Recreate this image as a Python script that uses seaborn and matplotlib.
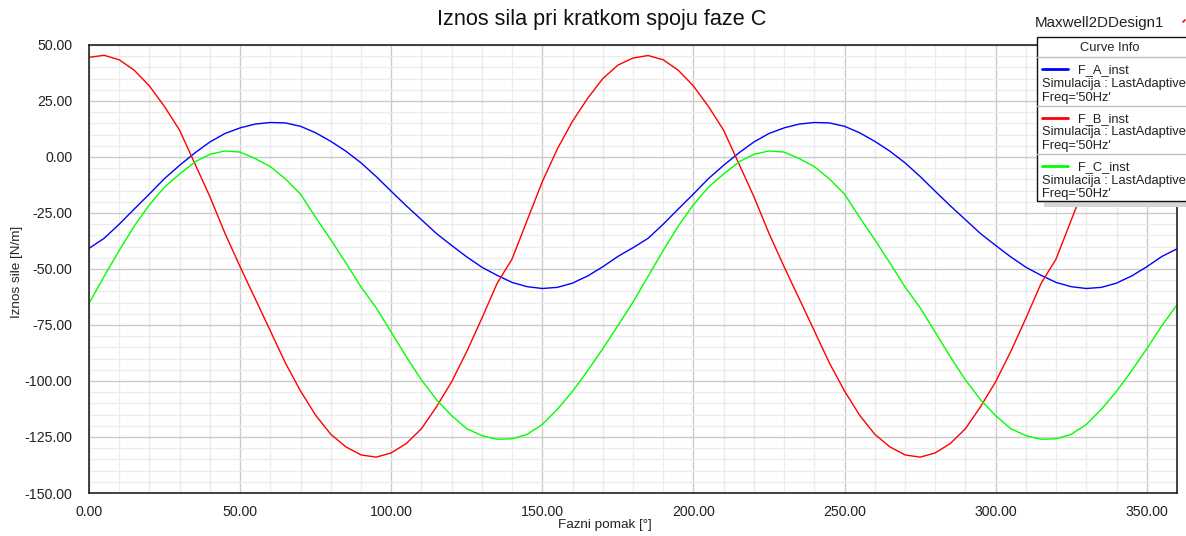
import numpy as np
import pandas as pd
import matplotlib
matplotlib.use("Agg")
import matplotlib.pyplot as plt
from matplotlib.ticker import MultipleLocator, FormatStrFormatter
from matplotlib.patches import Rectangle
from matplotlib.lines import Line2D
import seaborn as sns

# ─────────────────────────────────────────
# 1. DATA (every 5 degrees)
# ─────────────────────────────────────────
phase = list(range(0, 361, 5))

f_a = [-40.8, -36.3, -30.0, -23.2, -16.5, -9.6, -3.7, 1.8, 6.7, 10.5, 13.0, 14.7,
       15.4, 15.2, 13.7, 10.8, 7.0, 2.6, -2.6, -8.7, -15.3, -21.8, -28.0, -34.2,
       -39.5, -44.6, -49.2, -52.8, -56.0, -57.9, -58.7, -58.2, -56.3, -53.1, -49.0, -44.4,
       -40.5, -36.3, -30.0, -23.2, -16.5, -9.6, -3.7, 1.8, 6.7, 10.5, 13.0, 14.7,
       15.4, 15.2, 13.7, 10.8, 7.0, 2.6, -2.6, -8.7, -15.3, -21.8, -28.0, -34.2,
       -39.5, -44.6, -49.2, -52.8, -56.0, -57.9, -58.7, -58.2, -56.3, -53.1, -49.0, -44.4,
       -41.0]

f_b = [44.5, 45.4, 43.4, 38.7, 31.7, 22.5, 11.9, -2.9, -17.7, -34.1, -49.0, -63.3,
       -77.6, -92.0, -104.5, -115.3, -123.8, -129.4, -133.0, -134.0, -132.1, -127.9, -121.3, -111.5,
       -100.3, -86.8, -72.0, -56.5, -45.5, -28.2, -11.0, 3.7, 16.0, 26.2, 35.0, 41.0,
       44.2, 45.3, 43.4, 38.7, 31.7, 22.5, 11.9, -2.9, -17.7, -34.1, -49.0, -63.3,
       -77.6, -92.0, -104.5, -115.3, -123.8, -129.4, -133.0, -134.0, -132.1, -127.9, -121.3, -111.5,
       -100.3, -86.8, -72.0, -56.5, -45.5, -28.2, -11.0, 3.7, 16.0, 26.2, 35.0, 41.0,
       44.5]

f_c = [-65.3, -53.3, -41.7, -30.8, -21.3, -13.4, -7.6, -2.2, 1.2, 2.7, 2.2, -0.7,
       -4.3, -9.8, -16.6, -27.0, -36.9, -47.3, -58.0, -67.3, -78.2, -89.2, -99.5, -108.4,
       -115.5, -121.3, -124.4, -126.0, -125.8, -123.8, -119.4, -112.6, -104.6, -95.4, -85.6, -75.3,
       -64.8, -53.3, -41.7, -30.8, -21.3, -13.4, -7.6, -2.2, 1.2, 2.7, 2.2, -0.7,
       -4.3, -9.8, -16.6, -27.0, -36.9, -47.3, -58.0, -67.3, -78.2, -89.2, -99.5, -108.4,
       -115.5, -121.3, -124.4, -126.0, -125.8, -123.8, -119.4, -112.6, -104.6, -95.4, -85.6, -75.3,
       -66.0]

curves = ["F_A_inst", "F_B_inst", "F_C_inst"]
colors = ["#0000ff", "#ff0000", "#00ff00"]

df = pd.DataFrame({
    "phase": phase * 3,
    "value": f_a + f_b + f_c,
    "curve": [c for c in curves for _ in phase],
})

# ─────────────────────────────────────────
# 2. STYLE
# ─────────────────────────────────────────
sns.set_style("white")
plt.rcParams["font.family"] = ["Liberation Sans", "DejaVu Sans"]

W, H = 1186, 536
fig = plt.figure(figsize=(W / 100, H / 100), dpi=100)
ax = fig.add_axes([89 / W, (H - 493) / H, (1177 - 89) / W, (493 - 45) / H])

# ─────────────────────────────────────────
# 3. CURVES
# ─────────────────────────────────────────
sns.lineplot(data=df, x="phase", y="value", hue="curve", hue_order=curves,
             palette=colors, linewidth=1.0, legend=False, ax=ax)

ax.set_xlim(0, 360)
ax.set_ylim(-150, 50)
ax.set_xticks(np.arange(0, 351, 50))
ax.set_yticks(np.arange(-150, 51, 25))
ax.xaxis.set_minor_locator(MultipleLocator(10))
ax.yaxis.set_minor_locator(MultipleLocator(5))
ax.xaxis.set_major_formatter(FormatStrFormatter("%.2f"))
ax.yaxis.set_major_formatter(FormatStrFormatter("%.2f"))

ax.grid(which="major", color="#cbcbcb", linewidth=1.0)
ax.grid(which="minor", color="#ececec", linewidth=1.0)
ax.set_axisbelow(True)

ax.tick_params(which="major", direction="out", length=7, width=1.2,
               color="#222222", labelsize=10.2, labelcolor="#222222", pad=2)
ax.tick_params(which="minor", direction="out", length=3.6, width=1.0, color="#222222")
ax.tick_params(axis="y", which="major", pad=5)
for s in ax.spines.values():
    s.set_color("#222222")
    s.set_linewidth(1.2)

ax.set_xlabel("")
ax.set_ylabel("")

# ─────────────────────────────────────────
# 4. TEXTS
# ─────────────────────────────────────────
fig.text(602 / W, 1 - 20 / H, "Iznos sila pri kratkom spoju faze C",
         ha="center", va="center", fontsize=15.6, color="#111111")
fig.text(1035 / W, 1 - 23 / H, "Maxwell2DDesign1",
         ha="left", va="center", fontsize=10.9, color="#222222")
fig.text(605 / W, 1 - 525 / H, "Fazni pomak [°]",
         ha="center", va="center", fontsize=9.7, color="#222222")
fig.text(17 / W, 1 - 272 / H, "Iznos sile [N/m]", rotation=90,
         ha="center", va="center", fontsize=9.7, color="#222222")
fig.add_artist(Line2D([1183 / W, 1185 / W], [1 - 22 / H, 1 - 20 / H],
                      color="#ff0000", linewidth=1.2))

# ─────────────────────────────────────────
# 5. CURVE INFO BOX (drawn by hand, pixel units)
# ─────────────────────────────────────────
bx, by, bw, bh = 1037, 37, 160, 164
lax = fig.add_axes([bx / W, 1 - (by + bh) / H, bw / W, bh / H])
lax.set_xlim(0, bw)
lax.set_ylim(bh, 0)
lax.axis("off")

fs = 9.3
lax.add_patch(Rectangle((7, 6), bw, bh, facecolor="#d6d6d6", edgecolor="none",
                        clip_on=False, zorder=1))
lax.add_patch(Rectangle((0, 0), bw, bh, facecolor="white", edgecolor="#111111",
                        linewidth=1.0, clip_on=False, zorder=2))
lax.text(73, 11, "Curve Info", ha="center", va="center", fontsize=fs,
         color="#222222", zorder=3)
for yy in [20, 69, 117]:
    lax.plot([0, bw], [yy, yy], color="#c0c0c0", linewidth=1.0, zorder=3)

for i, (name, col) in enumerate(zip(curves, colors)):
    base = 20 + i * 48.5
    lax.plot([5, 31], [base + 12, base + 12], color=col, linewidth=2.0, zorder=3)
    lax.text(41, base + 13.5, name, ha="left", va="center", fontsize=fs,
             color="#222222", zorder=3)
    lax.text(5, base + 27, "Simulacija : LastAdaptive", ha="left", va="center",
             fontsize=fs, color="#222222", zorder=3)
    lax.text(5, base + 40.5, "Freq='50Hz'", ha="left", va="center",
             fontsize=fs, color="#222222", zorder=3)

fig.savefig("out.png", dpi=100)
